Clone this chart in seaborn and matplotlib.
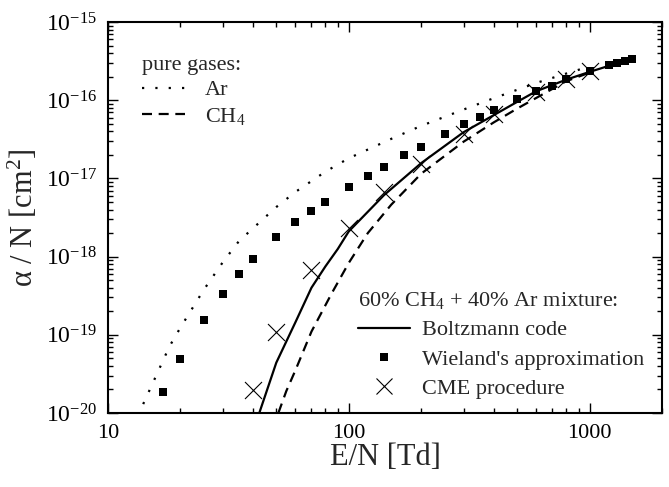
import numpy as np
import pandas as pd
import matplotlib
matplotlib.use("Agg")
import matplotlib.pyplot as plt
import seaborn as sns
from matplotlib.lines import Line2D
from matplotlib.ticker import LogLocator, NullFormatter, LogFormatterSciNotation

# ---------------- data ----------------
ar_E = [14, 16, 18, 20, 25, 30, 35, 40, 50, 60, 80, 100, 150, 200, 300, 400, 600, 800, 1000]
ar_alpha = [1.3e-20, 3.2e-20, 7.1e-20, 1.24e-19, 3.77e-19, 8.5e-19, 1.58e-18, 2.3e-18, 4.3e-18,
            6.7e-18, 1.22e-17, 1.81e-17, 3.2e-17, 4.7e-17, 7.6e-17, 1.06e-16, 1.66e-16, 2.19e-16, 2.7e-16]

ch4_E = [51, 55, 60, 70, 85, 100, 120, 150, 200, 300, 400, 500, 700, 800, 1000]
ch4_alpha = [1.0e-20, 1.9e-20, 3.5e-20, 1.1e-19, 3.4e-19, 8.3e-19, 2.0e-18, 4.6e-18, 1.15e-17,
             2.95e-17, 5.2e-17, 7.8e-17, 1.39e-16, 1.75e-16, 2.25e-16]

bz_E = [42.5, 50, 60, 70, 80, 90, 100, 140, 200, 300, 500, 600, 800, 1000, 1500]
bz_alpha = [1.0e-20, 4.4e-20, 1.44e-19, 4.0e-19, 7.5e-19, 1.25e-18, 2.1e-18, 6.1e-18, 1.57e-17,
            3.9e-17, 9.5e-17, 1.3e-16, 1.83e-16, 2.3e-16, 3.4e-16]

wl_E = [17, 20, 25, 30, 35, 40, 50, 60, 70, 80, 100, 120, 140, 170, 200, 250, 300, 350, 400,
        500, 600, 700, 800, 1000, 1200, 1300, 1400, 1500]
wl_alpha = [1.86e-20, 4.9e-20, 1.55e-19, 3.3e-19, 6.0e-19, 9.3e-19, 1.78e-18, 2.77e-18, 3.83e-18,
            5.0e-18, 7.8e-18, 1.07e-17, 1.4e-17, 2.0e-17, 2.5e-17, 3.7e-17, 4.97e-17, 6.1e-17,
            7.5e-17, 1.03e-16, 1.31e-16, 1.52e-16, 1.87e-16, 2.36e-16, 2.8e-16, 2.99e-16, 3.2e-16, 3.4e-16]

cme_E = [40, 50, 70, 100, 140, 200, 300, 400, 600, 800, 1000]
cme_alpha = [1.97e-20, 1.09e-19, 6.8e-19, 2.3e-18, 6.7e-18, 1.55e-17, 3.7e-17, 6.7e-17, 1.27e-16,
             1.87e-16, 2.36e-16]

x_ticks = [10, 100, 1000]
x_tick_labels = ["10", "100", "1000"]
y_ticks = [1e-20, 1e-19, 1e-18, 1e-17, 1e-16, 1e-15]

# ---------------- style ----------------
sns.set_theme(style="ticks")
plt.rcParams["font.family"] = ["Liberation Serif", "DejaVu Serif"]
plt.rcParams["mathtext.fontset"] = "custom"
plt.rcParams["mathtext.rm"] = "Liberation Serif"
plt.rcParams["mathtext.it"] = "Liberation Serif:italic"
plt.rcParams["mathtext.bf"] = "Liberation Serif:bold"
plt.rcParams["axes.unicode_minus"] = False

fig = plt.figure(figsize=(6.69, 4.87), dpi=100)
ax = fig.add_axes([108 / 669, 1 - 413 / 487, 554 / 669, 391 / 487])

df_ar = pd.DataFrame({"E": ar_E, "alpha": ar_alpha})
df_ch4 = pd.DataFrame({"E": ch4_E, "alpha": ch4_alpha})
df_bz = pd.DataFrame({"E": bz_E, "alpha": bz_alpha})
df_wl = pd.DataFrame({"E": wl_E, "alpha": wl_alpha})
df_cme = pd.DataFrame({"E": cme_E, "alpha": cme_alpha})

dotted = (0, (1, 5))
dashed = (0, (4.5, 3))

sns.lineplot(data=df_ar, x="E", y="alpha", ax=ax, color="black", lw=1.6,
             linestyle=dotted, sort=False, estimator=None, legend=False, zorder=2)
sns.lineplot(data=df_ch4, x="E", y="alpha", ax=ax, color="black", lw=1.6,
             linestyle=dashed, sort=False, estimator=None, legend=False, zorder=2)
sns.lineplot(data=df_bz, x="E", y="alpha", ax=ax, color="black", lw=1.6,
             sort=False, estimator=None, legend=False, zorder=3)
sns.scatterplot(data=df_wl, x="E", y="alpha", ax=ax, color="black", marker="s", s=40,
                linewidth=0, legend=False, zorder=4)
sns.scatterplot(data=df_cme, x="E", y="alpha", ax=ax, color="black", marker="x", s=150,
                linewidth=0.8, legend=False, zorder=5)

ax.set_xscale("log")
ax.set_yscale("log")
ax.set_xlim(10, 2000)
ax.set_ylim(1e-20, 1e-15)

ax.xaxis.set_minor_locator(LogLocator(base=10, subs=np.arange(2, 10), numticks=20))
ax.set_xticks(x_ticks)
ax.set_xticklabels(x_tick_labels)
ax.xaxis.set_minor_formatter(NullFormatter())
ax.set_yticks(y_ticks)
ax.yaxis.set_minor_locator(LogLocator(base=10, subs=np.arange(2, 10), numticks=20))
ax.yaxis.set_major_formatter(LogFormatterSciNotation())
ax.yaxis.set_minor_formatter(NullFormatter())

ax.tick_params(which="both", direction="in", top=True, right=True, colors="black", width=1.0)
ax.tick_params(axis="x", which="major", labelsize=16)
ax.tick_params(axis="y", which="major", labelsize=17)
ax.tick_params(which="major", length=7, pad=8)
ax.tick_params(which="minor", length=3.5)
for sp in ax.spines.values():
    sp.set_linewidth(1.5)
    sp.set_color("black")

ax.set_xlabel("E/N [Td]", fontsize=22, labelpad=0)
ax.set_ylabel("α / N [cm$^2$]", fontsize=22, labelpad=4)

# ---------------- legends ----------------
h_ar = Line2D([], [], color="black", lw=1.6, linestyle=dotted)
h_ch4 = Line2D([], [], color="black", lw=1.6, linestyle=dashed)
leg1 = ax.legend([h_ar, h_ch4], ["Ar", "CH$_4$"], title="pure gases:", loc="upper left",
                 bbox_to_anchor=(0.061, 0.914), frameon=False, fontsize=16, title_fontsize=16,
                 handlelength=1.94, handletextpad=0.9, labelspacing=0.235, borderpad=0,
                 borderaxespad=0, alignment="left")
ax.add_artist(leg1)

h_bz = Line2D([], [], color="black", lw=1.6)
h_wl = Line2D([], [], color="black", lw=0, marker="s", markersize=6.3, markeredgewidth=0)
h_cme = Line2D([], [], color="black", lw=0, marker="x", markersize=12, markeredgewidth=0.8)
leg2 = ax.legend([h_bz, h_wl, h_cme], ["Boltzmann code", "Wieland's approximation", "CME procedure"],
                 title="60% CH$_4$ + 40% Ar mixture:", loc="upper left",
                 bbox_to_anchor=(0.451, 0.315), frameon=False, fontsize=16, title_fontsize=16,
                 handlelength=2.34, handletextpad=0.54, labelspacing=0.4, borderpad=0,
                 borderaxespad=0, alignment="left")

fig.savefig("out.png", dpi=100)
